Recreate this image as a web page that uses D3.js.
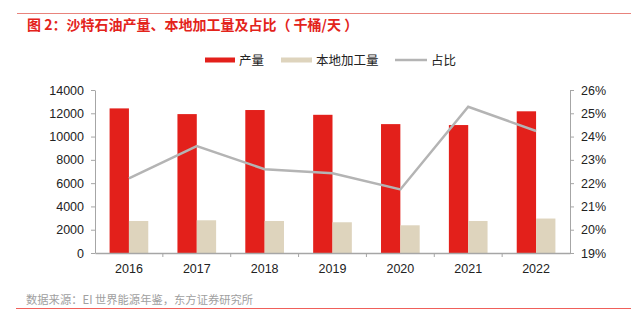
<!DOCTYPE html>
<html>
<head>
<meta charset="utf-8">
<script src="https://cdn.jsdelivr.net/npm/d3@7"></script>
<style>
  body { margin: 0; background: #fff; }
  svg { display: block; font-family: "Liberation Sans", "Noto Sans CJK SC", sans-serif; }
</style>
</head>
<body>
<svg id="canvas" width="631" height="327"></svg>
<script>
const years = ["2016", "2017", "2018", "2019", "2020", "2021", "2022"];
const production = [12420, 11930, 12280, 11870, 11070, 10990, 12170];
const refining = [2750, 2810, 2750, 2640, 2380, 2750, 2960];
const share = [22.2, 23.59, 22.6, 22.42, 21.73, 25.28, 24.24];
const leftTicks = [0, 2000, 4000, 6000, 8000, 10000, 12000, 14000];
const rightTicks = [19, 20, 21, 22, 23, 24, 25, 26];

const svg = d3.select("#canvas");
const cjk = "'Noto Sans CJK SC', sans-serif";
const axisColor = "#a6a6a6";

const margin = { left: 95, right: 61, top: 90, bottom: 74 };
const width = 631 - margin.left - margin.right;
const height = 327 - margin.top - margin.bottom;

// frame lines + title + source
svg.append("line").attr("x1", 17).attr("x2", 631).attr("y1", 13.5).attr("y2", 13.5)
  .attr("stroke", "#e8837c").attr("stroke-width", 1);
svg.append("line").attr("x1", 16).attr("x2", 631).attr("y1", 308.5).attr("y2", 308.5)
  .attr("stroke", "#f0605a").attr("stroke-width", 1);

const titleText = "图 2：沙特石油产量、本地加工量及占比（ 千桶/天 ）";
const title = svg.append("text").attr("x", 27).attr("y", 29.5)
  .attr("fill", "#e3231b").attr("font-size", 14).attr("font-weight", 600)
  .style("font-family", cjk)
  .text(titleText);
// spread letters so the title spans the same width as in the report
const natural = title.node().getComputedTextLength();
const gap = Math.max(0, (331 - natural) / (titleText.length - 1));
title.style("letter-spacing", gap + "px");

svg.append("text").attr("x", 26).attr("y", 304)
  .attr("fill", "#a0a0a0").attr("font-size", 11.3)
  .style("font-family", cjk)
  .text("数据来源：EI 世界能源年鉴，东方证券研究所");

const g = svg.append("g").attr("transform", `translate(${margin.left},${margin.top})`);

const x = d3.scaleBand().domain(years).range([0, width]);
const yLeft = d3.scaleLinear().domain([0, 14000]).range([height, 0]);
const yRight = d3.scaleLinear().domain([19, 26]).range([height, 0]);
const barW = x.bandwidth() * 0.285;

// bars
g.selectAll(".prod").data(years).enter().append("rect")
  .attr("x", (d) => x(d) + x.bandwidth() / 2 - barW)
  .attr("y", (d, i) => yLeft(production[i]))
  .attr("width", barW)
  .attr("height", (d, i) => height - yLeft(production[i]))
  .attr("fill", "#e3201b");

g.selectAll(".ref").data(years).enter().append("rect")
  .attr("x", (d) => x(d) + x.bandwidth() / 2)
  .attr("y", (d, i) => yLeft(refining[i]))
  .attr("width", barW)
  .attr("height", (d, i) => height - yLeft(refining[i]))
  .attr("fill", "#ded4bd");

// axes
const styleAxis = (sel) => {
  sel.selectAll("path, line").attr("stroke", axisColor);
  sel.selectAll("text").attr("fill", "#222").attr("font-size", 12.5)
    .style("font-family", "'Liberation Sans', sans-serif");
};

g.append("g")
  .call(d3.axisLeft(yLeft).tickValues(leftTicks).tickFormat(d3.format("d"))
    .tickSize(4).tickSizeOuter(0).tickPadding(7))
  .call(styleAxis);

g.append("g").attr("transform", `translate(${width},0)`)
  .call(d3.axisRight(yRight).tickValues(rightTicks).tickFormat((d) => d + "%")
    .tickSize(4).tickSizeOuter(0).tickPadding(7))
  .call(styleAxis);

const xAxis = g.append("g").attr("transform", `translate(0,${height})`)
  .call(d3.axisBottom(x).tickSize(0).tickPadding(11))
  .call(styleAxis);
xAxis.select(".domain").attr("stroke-width", 1.5);
xAxis.selectAll(".sep").data(years.slice(1)).enter().append("line")
  .attr("x1", (d) => x(d)).attr("x2", (d) => x(d))
  .attr("y1", 0).attr("y2", 4).attr("stroke", axisColor);

// share line
const line = d3.line()
  .x((d, i) => x(years[i]) + x.bandwidth() / 2)
  .y((d) => yRight(d));
g.append("path").datum(share)
  .attr("d", line).attr("fill", "none")
  .attr("stroke", "#b4b4b4").attr("stroke-width", 2.5);

// legend
const legend = svg.append("g").style("font-family", cjk).attr("font-size", 12.5);
legend.append("rect").attr("x", 205).attr("y", 57.5).attr("width", 30).attr("height", 5).attr("fill", "#e3201b");
legend.append("text").attr("x", 239).attr("y", 64.5).attr("fill", "#222").text("产量");
legend.append("rect").attr("x", 281).attr("y", 57.5).attr("width", 31).attr("height", 5).attr("fill", "#ded4bd");
legend.append("text").attr("x", 316).attr("y", 64.5).attr("fill", "#222").text("本地加工量");
legend.append("line").attr("x1", 395).attr("x2", 427).attr("y1", 60).attr("y2", 60)
  .attr("stroke", "#b4b4b4").attr("stroke-width", 2.5);
legend.append("text").attr("x", 431).attr("y", 64.5).attr("fill", "#222").text("占比");
</script>
</body>
</html>
